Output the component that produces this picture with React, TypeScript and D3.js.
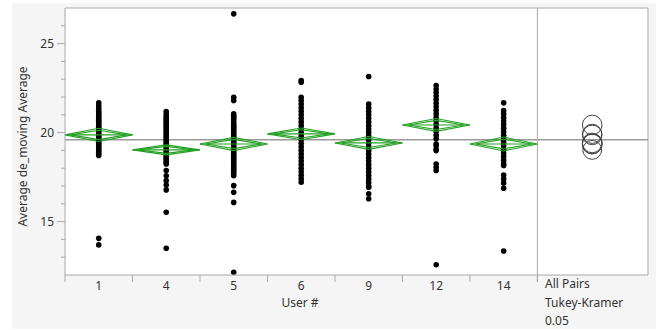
import * as d3 from "d3";

const users = ["1", "4", "5", "6", "9", "12", "14"];

const valuesByUser: number[][] = [
  [21.67, 21.5, 21.35, 21.2, 21.1, 21.0, 20.9, 20.8, 20.7, 20.6, 20.5, 20.4, 20.3, 20.2, 20.1, 20.0, 19.9, 19.8, 19.7, 19.6, 19.5, 19.4, 19.3, 19.2, 19.1, 19.0, 18.9, 18.8, 18.71, 14.06, 13.69],
  [21.18, 21.05, 20.9, 20.8, 20.7, 20.6, 20.5, 20.4, 20.3, 20.2, 20.1, 20.0, 19.9, 19.8, 19.7, 19.6, 19.5, 19.4, 19.3, 19.2, 19.1, 19.0, 18.9, 18.8, 18.7, 18.6, 18.5, 18.4, 18.3, 18.24, 17.87, 17.58, 17.3, 17.06, 16.78, 15.52, 13.5],
  [26.67, 21.98, 21.8, 21.05, 20.95, 20.85, 20.75, 20.6, 20.5, 20.4, 20.3, 20.2, 20.1, 20.0, 19.9, 19.8, 19.7, 19.6, 19.5, 19.4, 19.3, 19.2, 19.1, 19.0, 18.9, 18.8, 18.7, 18.6, 18.5, 18.4, 18.3, 18.2, 18.1, 18.0, 17.9, 17.8, 17.7, 17.58, 17.02, 16.65, 16.08, 12.15],
  [22.92, 22.83, 21.98, 21.8, 21.6, 21.4, 21.2, 21.0, 20.8, 20.6, 20.4, 20.2, 20.0, 19.8, 19.6, 19.4, 19.2, 19.0, 18.8, 18.6, 18.4, 18.2, 18.0, 17.8, 17.6, 17.4, 17.21],
  [23.15, 21.61, 21.4, 21.2, 21.0, 20.8, 20.6, 20.4, 20.2, 20.0, 19.8, 19.6, 19.4, 19.2, 19.0, 18.8, 18.6, 18.4, 18.2, 18.0, 17.8, 17.6, 17.4, 17.2, 17.0, 16.93, 16.56, 16.28],
  [22.64, 22.45, 22.25, 22.05, 21.85, 21.65, 21.45, 21.25, 21.05, 20.85, 20.65, 20.45, 20.25, 20.05, 19.85, 19.65, 19.36, 19.27, 19.08, 18.99, 18.24, 18.05, 17.87, 12.58],
  [21.67, 21.24, 21.05, 20.85, 20.65, 20.45, 20.25, 20.05, 19.85, 19.65, 19.45, 19.25, 19.05, 18.85, 18.65, 18.45, 18.25, 18.15, 17.62, 17.4, 17.17, 16.87, 13.35],
];

const means = [19.87, 19.03, 19.36, 19.93, 19.42, 20.43, 19.36];
const ciHalf = [0.37, 0.28, 0.37, 0.33, 0.36, 0.36, 0.39];
const circleRadius = [0.55, 0.53, 0.55, 0.54, 0.55, 0.55, 0.56];
const grandMean = 19.6;

const majorTicks = [15, 20, 25];
const minorTicks = [13, 14, 16, 17, 18, 19, 21, 22, 23, 24, 26];
const notes = ["All Pairs", "Tukey-Kramer", "0.05"];

const W = 659;
const H = 330;
const left = 65;
const mainRight = 537.4;
const right = 648;
const top = 8;
const bottom = 275;
const font = "'Noto Sans', 'Open Sans', sans-serif";
const green = "#22a022";
const frame = "#a8a8a8";

export default function App() {
  const x = d3.scaleBand<string>().domain(users).range([left, mainRight]).padding(0);
  const y = d3.scaleLinear().domain([12, 27]).range([bottom, top]);
  const bw = x.bandwidth();
  const circleX = (mainRight + right) / 2 - 0.5;
  const unit = y(0) - y(1);

  return (
    <div style={{ position: "fixed", left: 0, top: 0 }}>
      <svg width={W} height={H} style={{ display: "block" }}>
        <rect x={0} y={0} width={W} height={H} fill="#ffffff" />
        <rect x={12} y={3} width={644} height={326} fill="#f5f5f5" />
        <rect x={left} y={top} width={right - left} height={bottom - top} fill="#ffffff" />

        {/* grand mean */}
        <line x1={left} x2={right} y1={y(grandMean)} y2={y(grandMean)} stroke="#9a9a9a" strokeWidth={1.5} />

        {/* points */}
        {users.map((u, i) => (
          <g key={"p" + u}>
            {valuesByUser[i].map((v, j) => (
              <circle key={j} cx={x(u)! + bw / 2} cy={y(v)} r={2.8} fill="#000" />
            ))}
          </g>
        ))}

        {/* means diamonds */}
        {users.map((u, i) => {
          const x0 = x(u)!;
          const x1 = x0 + bw;
          const xc = x0 + bw / 2;
          const m = y(means[i]);
          const h = ciHalf[i] * unit;
          const h2 = h * 0.707;
          return (
            <g key={"d" + u} fill="none" stroke={green} strokeWidth={1.1}>
              <path d={`M${x0},${m}L${xc},${m - h}L${x1},${m}L${xc},${m + h}Z`} />
              <path d={`M${x0 + 6},${m}L${xc},${m - h2}L${x1 - 6},${m}L${xc},${m + h2}Z`} />
              <line x1={x0} x2={x1} y1={m} y2={m} />
            </g>
          );
        })}

        {/* comparison circles */}
        {users.map((u, i) => (
          <circle key={"c" + u} cx={circleX} cy={y(means[i])} r={circleRadius[i] * unit}
            fill="none" stroke="#444" strokeWidth={1} />
        ))}

        {/* frame */}
        <line x1={left} x2={right} y1={top} y2={top} stroke={frame} />
        <line x1={right} x2={right} y1={top} y2={bottom} stroke={frame} />
        <line x1={left} x2={right} y1={bottom} y2={bottom} stroke={frame} />
        <line x1={left} x2={left} y1={top} y2={bottom + 7} stroke={frame} />
        <line x1={mainRight} x2={mainRight} y1={top} y2={bottom + 7} stroke={frame} />

        {/* y axis */}
        {majorTicks.map((t) => (
          <g key={"mt" + t}>
            <line x1={left - 8} x2={left} y1={y(t)} y2={y(t)} stroke={frame} />
            <text x={left - 11} y={y(t)} dy="0.35em" textAnchor="end" fontFamily={font} fontSize={12} fill="#333">
              {t}
            </text>
          </g>
        ))}
        {minorTicks.map((t) => (
          <line key={"nt" + t} x1={left - 4} x2={left} y1={y(t)} y2={y(t)} stroke={frame} />
        ))}
        <text transform={`translate(27,${(top + bottom) / 2 + 5}) rotate(-90)`} textAnchor="middle"
          fontFamily={font} fontSize={12} fill="#333">
          Average de_moving Average
        </text>

        {/* x axis */}
        {users.map((u) => (
          <g key={"xt" + u}>
            <line x1={x(u)! + bw} x2={x(u)! + bw} y1={bottom} y2={bottom + 7} stroke={frame} />
            <text x={x(u)! + bw / 2} y={bottom + 15} textAnchor="middle" fontFamily={font} fontSize={12} fill="#333">
              {u}
            </text>
          </g>
        ))}
        <text x={300} y={307} textAnchor="middle" fontFamily={font} fontSize={12} fill="#333">
          User #
        </text>

        {notes.map((n, i) => (
          <text key={n} x={545} y={288 + i * 18.5} fontFamily={font} fontSize={12} fill="#333">
            {n}
          </text>
        ))}
      </svg>
    </div>
  );
}
